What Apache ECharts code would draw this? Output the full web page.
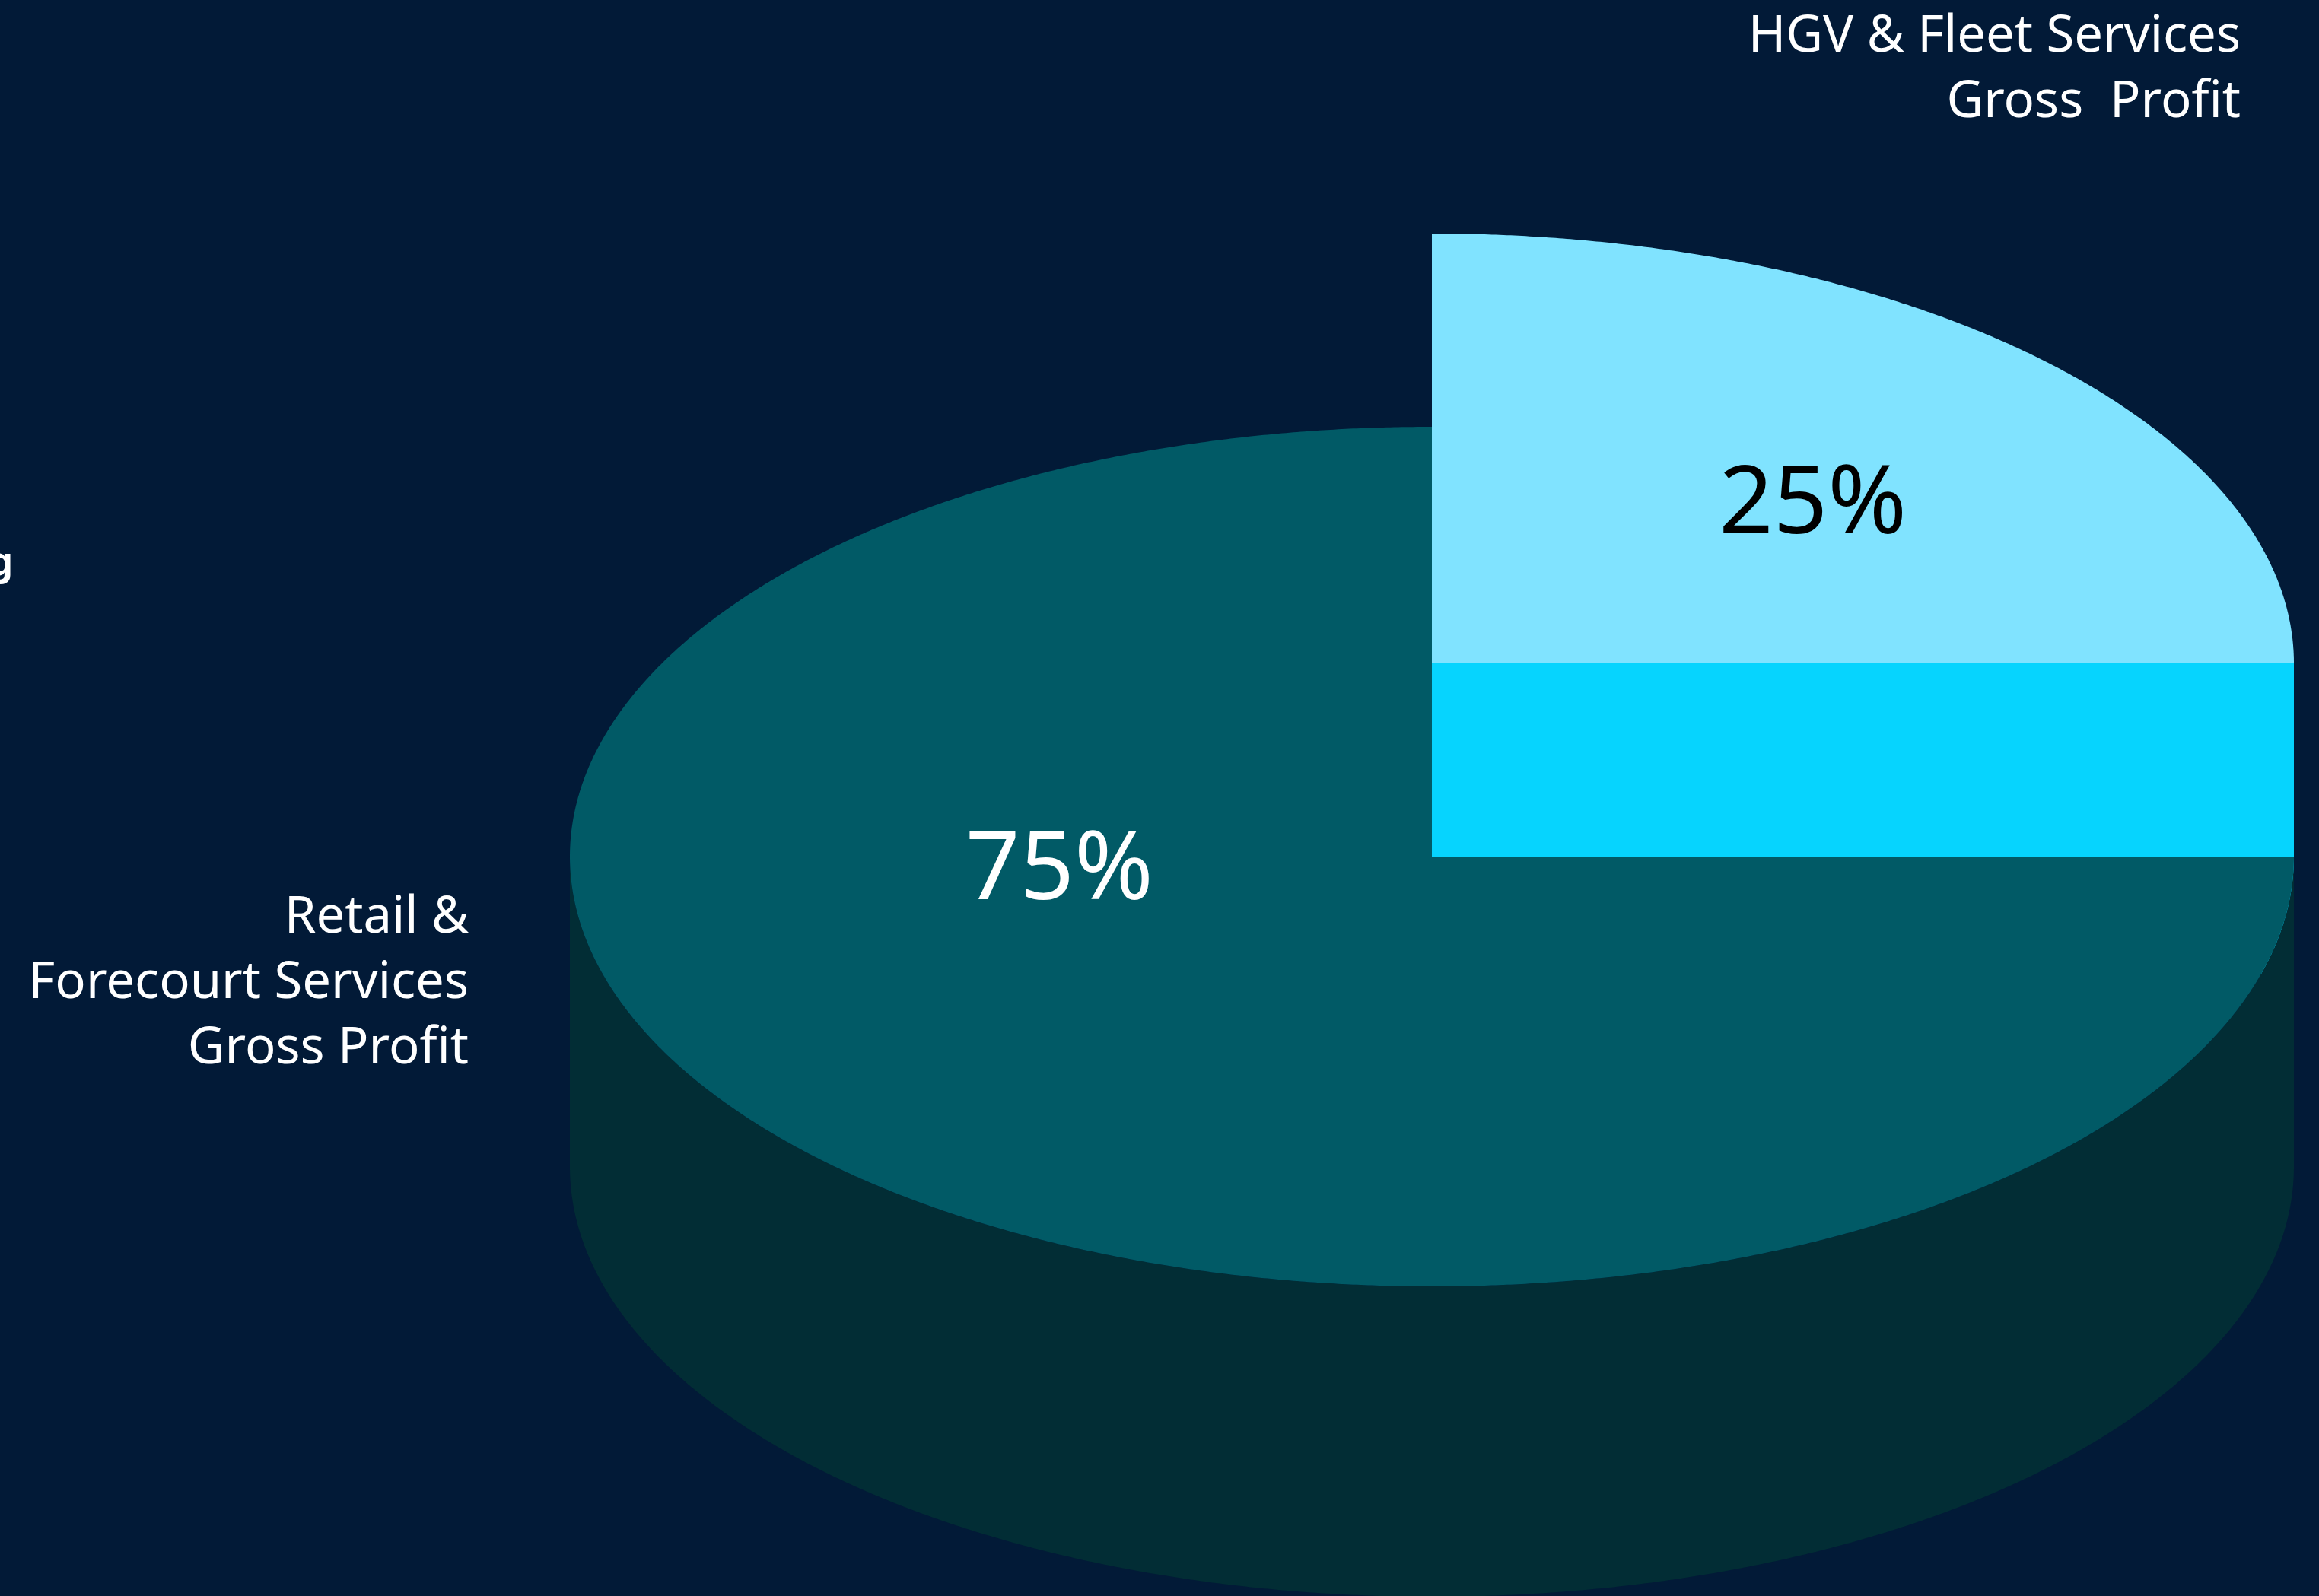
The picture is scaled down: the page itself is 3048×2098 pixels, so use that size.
<!DOCTYPE html>
<html>
<head>
<meta charset="utf-8">
<title>Gross Profit split</title>
<script src="https://cdn.jsdelivr.net/npm/echarts@6/dist/echarts.min.js"></script>
<style>
  html, body { margin: 0; padding: 0; background: #021a37; }
  #chart { width: 3048px; height: 2098px; }
</style>
</head>
<body>
<div id="chart"></div>
<script>
// Segments of gross profit and their shares (%)
const categories = ['Retail &\nForecourt Services\nGross Profit', 'HGV & Fleet Services\nGross  Profit'];
const shares = [75, 25];
const exploded = [false, true];

// Look of the extruded pie
const topColors = ['#015a66', '#80e3ff'];
const sideColors = ['#022d35', '#06d4fe'];
const valueLabelColors = ['#ffffff', '#000000'];
const PIE = { cx: 1882, cy: 1126, rx: 1133, ry: 565, depth: 408, lift: 254, startAngle: 90 };
// value label anchors, in units of the radii, relative to each slice's centre
const valueLabelAnchor = [[-0.432, 0.036], [0.442, -0.365]];

const total = shares.reduce((s, v) => s + v, 0);
const startAngles = [];
shares.reduce((acc, v, i) => { startAngles[i] = acc; return acc + v / total * 360; }, PIE.startAngle);

function pt(cx, cy, deg) {
  const r = deg * Math.PI / 180;
  return [cx + PIE.rx * Math.cos(r), cy - PIE.ry * Math.sin(r)];
}
function arc(cx, cy, from, to) {
  const pts = [];
  const n = Math.max(2, Math.ceil(Math.abs(to - from) / 0.25));
  for (let k = 0; k <= n; k++) pts.push(pt(cx, cy, from + (to - from) * k / n));
  return pts;
}

function renderItem(params, api) {
  const i = params.dataIndex;
  const v = api.value(0);
  const a0 = startAngles[i];
  const a1 = a0 + v / total * 360;
  const cx = PIE.cx;
  const cy = PIE.cy - (exploded[i] ? PIE.lift : 0);
  const d = PIE.depth;
  const base = exploded[i] ? 0 : 10;
  const children = [];

  // curved wall on the near half of the rim
  for (const k of [-360, 0, 360]) {
    const s = Math.max(a0, 180 + k), e = Math.min(a1, 360 + k);
    if (e - s > 0.01) {
      const upper = arc(cx, cy, s, e);
      const lower = arc(cx, cy + d, e, s);
      children.push({ type: 'polygon', z2: base + 1,
        shape: { points: upper.concat(lower) },
        style: { fill: sideColors[i] } });
    }
  }
  // flat cut faces that turn toward the viewer
  const faces = [];
  if (Math.sin((a0 - 90) * Math.PI / 180) < -1e-6) faces.push(a0);
  if (Math.sin((a1 + 90) * Math.PI / 180) < -1e-6) faces.push(a1);
  faces.forEach(a => {
    const p = pt(cx, cy, a);
    children.push({ type: 'polygon', z2: base + 2,
      shape: { points: [[cx, cy], p, [p[0], p[1] + d], [cx, cy + d]] },
      style: { fill: sideColors[i] } });
  });
  // top face
  children.push({ type: 'polygon', z2: base + 3,
    shape: { points: [[cx, cy]].concat(arc(cx, cy, a0, a1)) },
    style: { fill: topColors[i] } });
  // value label
  const anc = valueLabelAnchor[i];
  children.push({ type: 'text', z2: 50,
    x: cx + anc[0] * PIE.rx, y: cy + anc[1] * PIE.ry,
    style: { text: Math.round(v / total * 100) + '%', fill: valueLabelColors[i],
      font: '400 125px "Noto Sans"', align: 'center', verticalAlign: 'middle' } });
  return { type: 'group', children };
}

const chart = echarts.init(document.getElementById('chart'), null, { renderer: 'canvas' });
chart.setOption({
  backgroundColor: '#021a37',
  animation: false,
  series: [{
    type: 'custom',
    coordinateSystem: 'none',
    renderItem,
    data: shares.map((v, i) => ({ name: categories[i], value: [v, i] }))
  }],
  graphic: [
    { type: 'text', x: 2945, y: 92, style: { text: categories[1], fill: '#ffffff',
      font: '400 67px "Noto Sans"', lineHeight: 86, align: 'right', verticalAlign: 'middle' } },
    { type: 'text', x: 616, y: 1293, style: { text: categories[0], fill: '#ffffff',
      font: '400 67px "Noto Sans"', lineHeight: 86, align: 'right', verticalAlign: 'middle' } },
    { type: 'text', x: 17, y: 717, style: { text: 'g', fill: '#ffffff',
      font: '700 50px "Noto Sans"', align: 'right', verticalAlign: 'top' } }
  ]
});
</script>
</body>
</html>
